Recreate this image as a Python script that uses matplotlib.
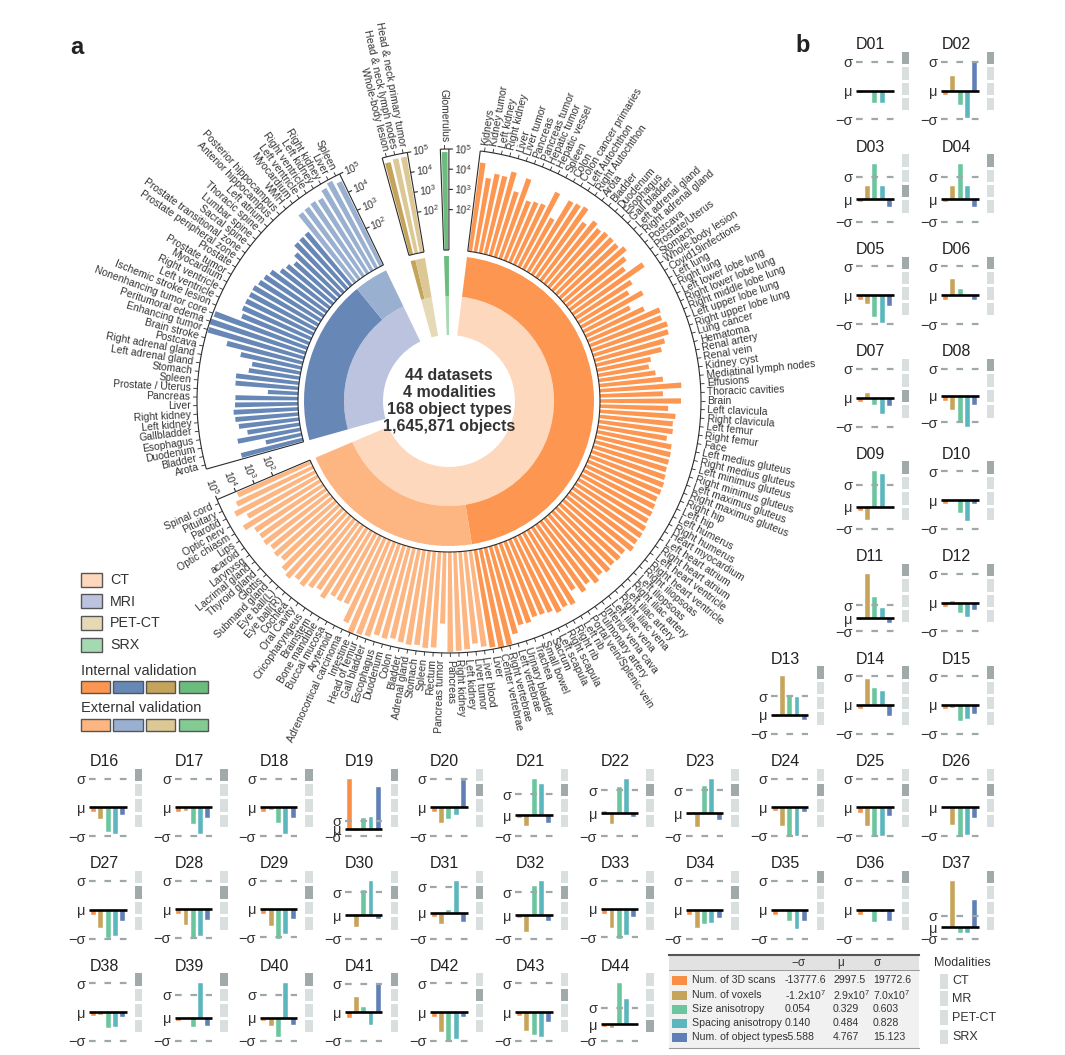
import numpy as np
import matplotlib
matplotlib.use("Agg")
import matplotlib.pyplot as plt
from matplotlib.patches import Rectangle

plt.rcParams['font.family'] = ['Liberation Sans', 'DejaVu Sans']
plt.rcParams['mathtext.fontset'] = 'custom'
plt.rcParams['mathtext.rm'] = 'Liberation Sans'
plt.rcParams['mathtext.it'] = 'Liberation Sans:italic'
plt.rcParams['mathtext.bf'] = 'Liberation Sans:bold'
plt.rcParams['lines.scale_dashes'] = False

TXT = '#333333'

# ------------------------------------------------------------------ data (panel a)
ct_labels = [
    'Kidneys', 'Kidney tumor', 'Left kidney', 'Right kidney', 'Liver', 'Liver tumor', 'Pancreas',
    'Pancreas tumor', 'Hepatic tumor', 'Hepatic vessel', 'Spleen', 'Colon', 'Colon cancer primaries',
    'Left Autochthon', 'Right Autochthon', 'Arota', 'Bladder', 'Duodenum', 'Esophagus', 'Gall bladder',
    'Left adrenal gland', 'Right adrenal gland', 'Postcava', 'Prostate/Uterus', 'Stomach',
    'Whole-body lesion', 'Covid19infections', 'Left lung', 'Right lung', 'Left lower lobe lung',
    'Right lower lobe lung', 'Right middle lobe lung', 'Left upper lobe lung', 'Right upper lobe lung',
    'Lung cancer', 'Hematoma', 'Renal artery', 'Renal vein', 'Kidney cyst', 'Mediatinal lymph nodes',
    'Effusions', 'Thoracic cavities', 'Brain', 'Left clavicula', 'Right clavicula', 'Left femur',
    'Right femur', 'Face', 'Left medius gluteus', 'Right medius gluteus', 'Left minimus gluteus',
    'Right minimus gluteus', 'Left maximus gluteus', 'Right maximus gluteus', 'Right hip', 'Left hip',
    'Left humerus', 'Right humerus', 'Heart myocardium', 'Left heart atrium', 'Right heart atrium',
    'Left heart ventricle', 'Right heart ventricle', 'Right iliopsoas', 'Left iliopsoas',
    'Right iliac artery', 'Left iliac artery', 'Right iliac vena', 'Left iliac vena',
    'Inferior vena cava', 'Pulmonary artery', 'Portal vein/Splenic vein', 'Left rib', 'Right rib',
    'Right scapula', 'Left scapula', 'Sacrum', 'Small bowel', 'Trachea', 'Urinary bladder',
    'Left vertebrae', 'Right vertebrae', 'Center vertebrae', 'Liver',
    'Liver blood', 'Liver tumor', 'Left kidney', 'Right kidney', 'Pancreas', 'Pancreas tumor', 'Rectum',
    'Spleen', 'Stomach', 'Adrenal gland', 'Bladder', 'Colon', 'Duodenum', 'Escophagus', 'Gall bladder',
    'Head of femur', 'Intestine', 'Adrenocortical carcinoma', 'Arytenoid', 'Buccal mucosa',
    'Bone mandible', 'Brainstem', 'Cricopharyngeus', 'Oral Cavity', 'Cochlea', 'Eye ball(R)',
    'Eye ball(L)', 'Submand gland', 'Glottis', 'Thyroid gland', 'Lacrimal gland', 'Larynxsg',
    'acaroid', 'Lips', 'Optic chiasm', 'Optic nerv', 'Parotid', 'Pituitary', 'Spinal cord']
ct_log_count = [
    4.43, 3.72, 4.00, 3.98, 4.30, 3.40, 4.20, 3.17, 3.26, 3.32, 4.15, 2.90, 4.10, 4.16, 4.25, 3.60,
    3.97, 3.80, 3.90, 3.90, 3.87, 4.06, 3.74, 3.40, 4.27, 3.30, 2.90, 3.50, 2.60, 3.20, 3.89, 3.81,
    3.98, 3.90, 3.60, 3.34, 2.72, 2.56, 2.84, 3.17, 4.05, 3.12, 4.01, 3.38, 3.76, 3.66, 3.70, 3.46,
    3.76, 3.80, 3.80, 3.80, 3.86, 3.92, 3.93, 3.89, 3.95, 4.00, 4.00, 4.10, 4.14, 4.13, 4.20, 3.96,
    4.00, 3.95, 4.05, 3.90, 4.10, 3.85, 4.07, 3.70, 4.30, 4.20, 4.30, 4.10, 4.03, 4.00, 4.18, 4.15,
    4.50, 4.95, 5.00, 4.90,
    4.80, 4.60, 4.85, 4.90, 4.95, 3.55, 4.75, 4.80, 4.70, 4.75, 4.70, 4.60, 4.70, 4.65, 4.84, 4.90,
    5.00, 4.60, 3.76, 3.80, 3.75, 4.10, 3.85, 4.00, 4.20, 4.10, 4.35, 4.20, 3.88, 4.00, 3.90, 4.04,
    4.00, 4.04, 4.45, 4.00, 4.49, 4.20, 3.96]
ct_internal_n = 84

mri_labels = [
    'Arota', 'Bladder', 'Duodenum', 'Esophagus', 'Gallbladder', 'Left kidney', 'Right kidney', 'Liver',
    'Pancreas', 'Prostate / Uterus', 'Spleen', 'Stomach', 'Left adrenal gland', 'Right adrenal gland',
    'Postcava', 'Brain stroke', 'Enhancing tumor', 'Peritumoral edema', 'Nonenhancing tumor core',
    'Ischemic stroke lesion', 'Left ventricle', 'Right ventricle', 'Myocardium', 'Prostate tumor',
    'Prostate', 'Prostate peripheral zone', 'Prostate transitional zone', 'Sacral spine',
    'Lumbar spine', 'Thoracic spine', 'Left atrium', 'Anterior hippocampus', 'Posterior hippocampus',
    'WMH', 'Myocardium', 'Left ventricle', 'Right ventricle', 'Left kidney', 'Right kidney', 'Liver',
    'Spleen']
mri_log_count = [
    3.15, 1.82, 3.17, 2.62, 3.00, 3.14, 3.20, 3.12, 3.10, 1.50, 3.13, 3.14, 2.55, 2.44, 3.09, 3.88,
    4.95, 5.00, 4.90, 3.60, 3.72, 3.72, 3.70, 3.71, 3.60, 3.52, 3.41, 3.06, 2.95, 2.76, 3.03, 3.38,
    3.40, 3.42, 4.35, 4.38, 4.44, 4.37, 4.70, 4.87, 4.64]
mri_internal_n = 34

pet_labels = ['Whole-body lesion', 'Head & neck lymph nodes', 'Head & neck primary tumor']
pet_log_count = [4.70, 4.80, 4.80]
pet_internal_n = 1

srx_labels = ['Glomerulus']
srx_log_count = [4.85]
srx_internal_n = 1

center_text = '44 datasets\n4 modalities\n168 object types\n1,645,871 objects'

# ------------------------------------------------------------------ data (panel b)
dataset_names = ['D%02d' % i for i in range(1, 45)]
scans_z = [-0.09, -0.15, -0.12, -0.12, -0.15, -0.17, -0.15, -0.18, -0.17, -0.15, -0.12, -0.15,
           -0.10, -0.15, -0.15, -0.18, -0.18, -0.18, 6.60, -0.18, -0.12, 0.08, -0.10, -0.15,
           -0.20, 0.00, -0.17, -0.17, -0.17, 0.00, -0.17, -0.12, -0.17, -0.17, -0.18, -0.18,
           -0.03, -0.15, -0.12, -0.15, -0.20, -0.17, -0.12, -0.15]
voxels_z = [0.00, 0.51, 0.58, 0.58, -0.30, 0.55, 0.15, -0.53, -0.60, 0.00, 3.43, 0.06,
            2.07, 0.89, -0.12, -0.40, -0.12, -0.10, -0.30, -0.55, -0.50, -0.47, -0.60, -0.67,
            -0.65, -0.63, -0.65, -0.55, -0.60, -0.50, -0.43, -0.70, -0.68, -0.65, 0.00, 0.00,
            4.10, -0.10, 0.00, -0.36, 0.54, -0.70, -0.65, -0.22]
size_aniso_z = [-0.44, -0.50, 1.55, 1.55, -0.75, 0.22, -0.25, -1.00, 1.60, -0.45, 1.60, -0.35,
                1.00, 0.57, -0.55, -0.85, -0.57, -0.53, 1.39, -0.40, 1.75, 1.15, 1.16, -1.00,
                -0.98, -1.02, -0.97, -1.03, -1.05, 1.12, 0.10, 1.27, -1.05, -0.48, -0.40, -0.42,
                -0.50, -0.55, -0.40, -0.85, 0.20, -1.00, -0.80, 2.46]
spacing_aniso_z = [-0.44, -0.95, 0.57, 0.57, -0.95, 0.00, -0.55, -1.15, 1.48, -0.72, 0.80, -0.50,
                   0.98, 0.50, -0.50, -0.92, -0.92, -0.93, 1.50, -0.27, 1.50, 1.50, 1.50, -1.02,
                   -0.98, -0.97, -0.93, -0.93, -0.90, 1.50, 1.23, 1.50, -0.93, -0.47, -0.68, -0.08,
                   -0.50, -0.50, 1.49, 1.50, -0.45, -0.95, -0.88, 1.50]
objtypes_z = [-0.06, 1.00, -0.33, -0.33, -0.38, -0.15, -0.28, -0.35, -0.05, -0.15, -0.40, -0.27,
              -0.25, -0.38, -0.30, -0.27, -0.37, -0.37, 5.50, 0.95, -0.37, -0.15, -0.30, -0.17,
              -0.30, -0.38, -0.38, -0.38, -0.35, -0.15, -0.35, -0.25, -0.28, -0.28, -0.38, -0.38,
              2.44, -0.17, -0.36, -0.30, 1.02, -0.17, -0.35, -0.05]
# 0 = CT, 1 = MR, 2 = PET-CT, 3 = SRX
dataset_modality = [0, 0, 2, 0, 0, 0, 2, 0, 0, 0, 0, 0, 0, 0, 0, 0, 0, 0, 0, 1, 1, 1, 1, 1,
                    1, 1, 1, 1, 1, 1, 1, 1, 1, 1, 0, 0, 0, 0, 0, 0, 0, 1, 1, 3]

table_rows = ['Num. of 3D scans', 'Num. of voxels', 'Size anisotropy', 'Spacing anisotropy',
              'Num. of object types']
table_minus_sigma = ['-13777.6', '-1.2x10$^7$', '0.054', '0.140', '-5.588']
table_mu = ['2997.5', '2.9x10$^7$', '0.329', '0.484', '4.767']
table_sigma = ['19772.6', '7.0x10$^7$', '0.603', '0.828', '15.123']
modality_names = ['CT', 'MR', 'PET-CT', 'SRX']

# ------------------------------------------------------------------ colours
CT_C = ('#FD9650', '#FDB582', '#FDD8BC')
MRI_C = ('#6787B7', '#9AB0D1', '#BCC3DE')
PET_C = ('#C4A35B', '#DCC895', '#E6D9B6')
SRX_C = ('#6CBD7D', '#82CB93', '#A5D9B1')
BAR_COLS = ['#F98E47', '#C6A55B', '#6BC69D', '#5BB6BE', '#5F7FB6']
MOD_DARK, MOD_LIGHT = '#A1AAAA', '#D9DEDE'
DASH_C = '#9DA8A8'

W, H = 1065, 1055
fig = plt.figure(figsize=(W / 100, H / 100), dpi=100)
fig.patch.set_facecolor('white')


def fig_rect(x, y, w, h):
    return [x / W, 1 - (y + h) / H, w / W, h / H]


def norm_rot(a):
    a = (a + 180) % 360 - 180
    if a > 90:
        a -= 180
    elif a <= -90:
        a += 180
    return a


# ------------------------------------------------------------------ panel a
CX, CY = 449, 401
PX = 20.2
RAX = 262
axp = fig.add_axes(fig_rect(CX - RAX, CY - RAX, 2 * RAX, 2 * RAX), projection='polar')
axp.set_theta_zero_location('N')
axp.set_theta_direction(-1)
axp.set_ylim(0, RAX / PX)
axp.set_axis_off()

R0 = 151 / PX
RTOP = R0 + 5
RM0, RM1, RV1 = 66 / PX, 105 / PX, 145 / PX
STEP = 1.95
rad = np.deg2rad


def draw_group(labels, vals, n_int, start, cols):
    c_int, c_ext, c_mod = cols
    n = len(vals)
    centers = start + STEP * np.arange(n)
    t_lo = start - STEP / 2
    t_hi = centers[-1] + STEP / 2
    colors = [c_int] * n_int + [c_ext] * (n - n_int)
    axp.bar(rad(centers), vals, width=rad(STEP * 0.68), bottom=R0, color=colors,
            linewidth=0, zorder=2)
    axp.bar(rad((t_lo + t_hi) / 2), RM1 - RM0, width=rad(t_hi - t_lo), bottom=RM0,
            color=c_mod, linewidth=0)
    t_mid = t_lo + STEP * n_int
    if n_int > 0:
        axp.bar(rad((t_lo + t_mid) / 2), RV1 - RM1, width=rad(t_mid - t_lo), bottom=RM1,
                color=c_int, linewidth=0)
    if n_int < n:
        axp.bar(rad((t_mid + t_hi) / 2), RV1 - RM1, width=rad(t_hi - t_mid), bottom=RM1,
                color=c_ext, linewidth=0)
    kw = dict(color='#2b2b2b', lw=0.8, zorder=3, solid_capstyle='butt')
    arc = rad(np.linspace(t_lo, t_hi, 300))
    axp.plot(arc, np.full(arc.shape, R0), **kw)
    axp.plot(arc, np.full(arc.shape, RTOP), **kw)
    axp.plot([rad(t_lo)] * 2, [R0, RTOP], **kw)
    axp.plot([rad(t_hi)] * 2, [R0, RTOP], **kw)
    axp.vlines(rad(centers), RTOP, RTOP + 4 / PX, color='#2b2b2b', lw=0.6, zorder=3)
    for c, lab in zip(centers, labels):
        cm = c % 360
        if cm < 180:
            rot, ha = 90 - cm, 'left'
        else:
            rot, ha = 270 - cm, 'right'
        axp.text(rad(c), RTOP + 6.5 / PX, lab, rotation=rot, rotation_mode='anchor',
                 ha=ha, va='center', fontsize=7.5, color=TXT)
    for k in range(2, 6):
        r = R0 + k
        rp = r * PX
        dt = np.degrees(4 / rp)
        axp.plot(rad(np.array([t_hi, t_hi + dt])), [r, r], **kw)
        to = np.degrees(14 / rp)
        axp.text(rad(t_hi + to), r, '$10^{%d}$' % k, rotation=norm_rot(-(t_hi + to)),
                 rotation_mode='anchor', ha='center', va='center', fontsize=7.5, color=TXT)


draw_group(ct_labels, ct_log_count, ct_internal_n, 8.1, CT_C)
draw_group(mri_labels, mri_log_count, mri_internal_n, 255.3, MRI_C)
draw_group(pet_labels, pet_log_count, pet_internal_n, 345.6, PET_C)
draw_group(srx_labels, srx_log_count, srx_internal_n, 359.0, SRX_C)

fig.text(CX / W, 1 - CY / H, center_text, ha='center', va='center', fontsize=11.5,
         fontweight='bold', color=TXT, linespacing=1.15)

# ------------------------------------------------------------------ panel b
COL_X0, COL_DX = 89.3, 85.2
ROW_Y0, ROW_DY = 51.7, 102.4
AX_W, AX_H = 37.4, 57.6
XL = (-0.575, 4.55)

cells = []
for i in range(44):
    if i < 12:
        r, c = i // 2, 9 + i % 2
    elif i < 15:
        r, c = 6, 8 + (i - 12)
    elif i < 26:
        r, c = 7, i - 15
    elif i < 37:
        r, c = 8, i - 26
    else:
        r, c = 9, i - 37
    cells.append((COL_X0 + COL_DX * c, ROW_Y0 + ROW_DY * r))

for i in range(44):
    x, st = cells[i]
    vals = [scans_z[i], voxels_z[i], size_aniso_z[i], spacing_aniso_z[i], objtypes_z[i]]
    lo = min(-1.0, min(vals))
    hi = max(1.0, max(vals))
    ax = fig.add_axes(fig_rect(x, st + 10, AX_W, AX_H))
    ax.bar(range(5), vals, width=0.68, color=BAR_COLS, edgecolor='white', linewidth=0.3,
           zorder=2)
    ax.set_xlim(*XL)
    ax.set_ylim(lo, hi)
    for yv in (1, -1):
        ax.plot(XL, [yv, yv], color=DASH_C, lw=1.6, ls=(0, (4.8, 6.3)), clip_on=False,
                zorder=3)
    ax.plot(XL, [0, 0], color='black', lw=1.9, clip_on=False, zorder=4,
            solid_capstyle='butt')
    ax.set_yticks([-1, 0, 1])
    ax.set_yticklabels(['\u2212\u03c3', '\u03bc', '\u03c3'], fontsize=10.5, color=TXT)
    ax.tick_params(axis='y', length=0, pad=2.5)
    ax.set_xticks([])
    for s in ax.spines.values():
        s.set_visible(False)
    ax.patch.set_visible(False)
    ax.set_title(dataset_names[i], loc='left', fontsize=11.5, pad=9, color='#222222')

# ------------------------------------------------------------------ overlay (legend, strips, table)
axo = fig.add_axes([0, 0, 1, 1])
axo.set_xlim(0, W)
axo.set_ylim(H, 0)
axo.set_axis_off()

# modality strips of panel b
for i in range(44):
    x, st = cells[i]
    for k in range(4):
        fc = MOD_DARK if dataset_modality[i] == k else MOD_LIGHT
        axo.add_patch(Rectangle((x + 45.7, st + k * 15.4), 7.3, 12.5, fc=fc, ec='none'))

# legend of panel a
leg_names = ['CT', 'MRI', 'PET-CT', 'SRX']
mods = [CT_C, MRI_C, PET_C, SRX_C]
for k in range(4):
    axo.add_patch(Rectangle((80.7, 572.7 + k * 21.7), 21.6, 14, fc=mods[k][2], ec='#555555',
                            lw=1))
    axo.text(110, 580 + k * 21.7, leg_names[k], fontsize=10.3, va='center', ha='left',
             color=TXT)
axo.text(80.7, 671, 'Internal validation', fontsize=10.5, va='center', ha='left', color=TXT)
axo.text(80.7, 708.5, 'External validation', fontsize=10.5, va='center', ha='left', color=TXT)
for k in range(4):
    axo.add_patch(Rectangle((80.7 + k * 32.6, 681), 29.5, 11.7, fc=mods[k][0], ec='#555555',
                            lw=1))
    axo.add_patch(Rectangle((80.7 + k * 32.6, 719), 29.5, 11.7, fc=mods[k][1], ec='#555555',
                            lw=1))

# table
tx0, tx1 = 669, 918.7
axo.add_patch(Rectangle((tx0, 955.3), tx1 - tx0, 1048 - 955.3, fc='#f1f1f1', ec='none'))
axo.add_patch(Rectangle((tx0, 955.3), tx1 - tx0, 14.4, fc='#e2e2e2', ec='none'))
axo.plot([tx0, tx1], [955.3, 955.3], color='#555555', lw=1.5)
axo.plot([tx0, tx1], [969.7, 969.7], color='#888888', lw=0.6)
axo.plot([tx0, tx1], [1048, 1048], color='#999999', lw=0.8)
for hx, ht in zip([791, 837, 873], ['\u2212\u03c3', '\u03bc', '\u03c3']):
    axo.text(hx, 963, ht, fontsize=8.5, va='center', ha='left', color=TXT)
row_y = [980.3, 995, 1009, 1023, 1037.3]
for k in range(5):
    y = row_y[k]
    axo.add_patch(Rectangle((672, y - 4.5), 15, 9, fc=BAR_COLS[k], ec='none'))
    axo.text(692, y, table_rows[k], fontsize=7.6, va='center', ha='left', color=TXT)
    axo.text(785, y, table_minus_sigma[k], fontsize=7.6, va='center', ha='left', color=TXT)
    axo.text(833, y, table_mu[k], fontsize=7.6, va='center', ha='left', color=TXT)
    axo.text(873, y, table_sigma[k], fontsize=7.6, va='center', ha='left', color=TXT)

# modalities legend
axo.text(934, 963, 'Modalities', fontsize=9, va='center', ha='left', color=TXT)
mod_tops = [974, 991.3, 1010.3, 1029.7]
for k in range(4):
    axo.add_patch(Rectangle((940, mod_tops[k]), 8, 14.5, fc=MOD_LIGHT, ec='none'))
    axo.text(952, mod_tops[k] + 7.5, modality_names[k], fontsize=9, va='center', ha='left',
             color=TXT)

# panel letters
fig.text(77 / W, 1 - 47 / H, 'a', fontsize=17, fontweight='bold', ha='center', va='center',
         color='#222222')
fig.text(803 / W, 1 - 46 / H, 'b', fontsize=17, fontweight='bold', ha='center', va='center',
         color='#222222')

fig.savefig('out.png', dpi=100, facecolor='white')
